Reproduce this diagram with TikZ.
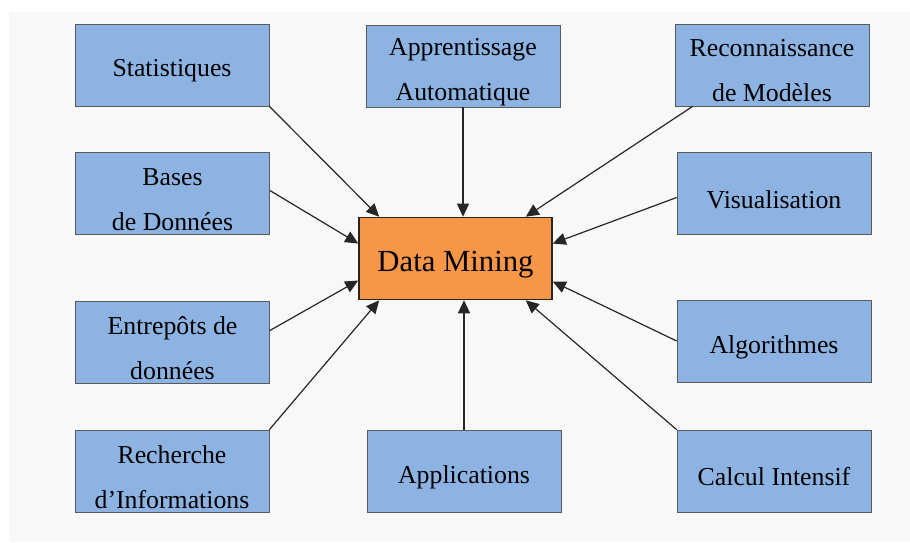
\documentclass[tikz,border=0pt]{standalone}
\usepackage{fontspec}
\setmainfont{Liberation Serif}
\usetikzlibrary{arrows.meta}
\definecolor{pagegray}{HTML}{F8F8F8}
\definecolor{boxblue}{HTML}{8DB3E2}
\definecolor{boxedge}{HTML}{5A5A5A}
\definecolor{dmorange}{HTML}{F79646}
\definecolor{linegray}{HTML}{262626}
\begin{document}
\begin{tikzpicture}[x=1pt,y=-1pt,
  topic/.style={rectangle, fill=boxblue, draw=boxedge, line width=0.7pt,
    minimum width=194pt, minimum height=82pt, inner sep=0pt},
  caption/.style={yshift=-6pt, inner sep=0pt, align=center,
    font=\fontsize{25.8}{45}\selectfont},
  core/.style={rectangle, fill=dmorange, draw=black!85, line width=1.6pt,
    minimum width=193pt, minimum height=82pt, inner sep=0pt},
  corecaption/.style={yshift=-6pt, inner sep=0pt,
    font=\fontsize{30.7}{36}\selectfont},
  feed/.style={draw=linegray, line width=1.2pt,
    -{Triangle[length=13pt,width=12pt]}}]
  % canvas
  \useasboundingbox (0,0) rectangle (910,542);
  \fill[white] (0,0) rectangle (910,542);
  \fill[pagegray] (9,12) rectangle (910,542);

  % central box
  \node[core, label={[corecaption]center:Data Mining}] (dm) at (455.5,258.5) {};

  % surrounding disciplines
  \node[topic, label={[caption]center:Statistiques}] (stat) at (172,65) {};
  \node[topic, label={[caption]center:Apprentissage\\Automatique}] (appr) at (463,66) {};
  \node[topic, label={[caption]center:Reconnaissance\\de Modèles}] (reco) at (772,65) {};
  \node[topic, label={[caption]center:Bases\\de Données}] (base) at (172.5,193.5) {};
  \node[topic, label={[caption]center:Visualisation}] (visu) at (774,193.5) {};
  \node[topic, label={[caption]center:Entrepôts de\\données}] (entr) at (172.5,342.5) {};
  \node[topic, label={[caption]center:Algorithmes}] (algo) at (774,341) {};
  \node[topic, label={[caption]center:Recherche\\d’Informations}] (rech) at (172,471) {};
  \node[topic, label={[caption]center:Applications}] (appl) at (464,471) {};
  \node[topic, label={[caption]center:Calcul Intensif}] (calc) at (774,471) {};

  % arrow targets on the central box
  \coordinate (tNW) at ([xshift=21pt]dm.north west);
  \coordinate (tNE) at ([xshift=-27pt]dm.north east);
  \coordinate (tWN) at ([yshift=15pt]dm.west);
  \coordinate (tWS) at ([yshift=-22pt]dm.west);
  \coordinate (tEN) at ([yshift=15pt]dm.east);
  \coordinate (tES) at ([yshift=-23pt]dm.east);
  \coordinate (tSW) at ([xshift=21pt]dm.south west);
  \coordinate (tSE) at ([xshift=-27pt]dm.south east);

  % arrow sources on the outer boxes
  \coordinate (sReco) at ([xshift=18pt]reco.south west);
  \coordinate (sBase) at ([yshift=3pt]base.east);
  \coordinate (sVisu) at ([yshift=-4pt]visu.west);
  \coordinate (sEntr) at ([yshift=12pt]entr.east);

  % connectors
  \draw[feed] (stat.south east) -- (tNW);
  \draw[feed] (appr.south) -- (appr.south |- dm.north);
  \draw[feed] (sReco) -- (tNE);
  \draw[feed] (sBase) -- (tWN);
  \draw[feed] (sVisu) -- (tEN);
  \draw[feed] (sEntr) -- (tWS);
  \draw[feed] (algo.west) -- (tES);
  \draw[feed] (rech.north east) -- (tSW);
  \draw[feed] (appl.north) -- (appl.north |- dm.south);
  \draw[feed] (calc.north west) -- (tSE);
\end{tikzpicture}
\end{document}
